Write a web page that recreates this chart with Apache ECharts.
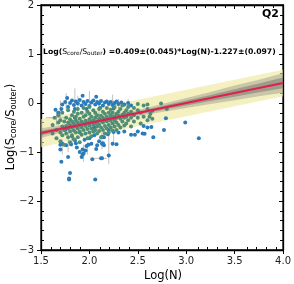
<!DOCTYPE html>
<html><head><meta charset="utf-8">
<script src="https://cdn.jsdelivr.net/npm/echarts@6/dist/echarts.min.js"></script>
<style>html,body{margin:0;padding:0;background:#fff}#c{width:294px;height:284px}</style>
</head><body><div id="c"></div>
<script>
// ---- data ----
var xTicks = [1.5, 2.0, 2.5, 3.0, 3.5, 4.0];
var yTicks = [-3, -2, -1, 0, 1, 2];
var bandX = [1.5, 1.75, 2.0, 2.25, 2.5, 2.75, 3.0, 3.25, 3.5, 3.75, 4.0];
var fitY = [-0.614, -0.511, -0.409, -0.307, -0.204, -0.102, 0.0, 0.102, 0.205, 0.307, 0.409];
var yellowHalf = [0.29, 0.28, 0.27, 0.27, 0.27, 0.27, 0.27, 0.27, 0.27, 0.27, 0.27];
var grayOuter = [0.10, 0.07, 0.05, 0.05, 0.06, 0.08, 0.10, 0.12, 0.15, 0.17, 0.20];
var grayInner = [0.05, 0.035, 0.025, 0.025, 0.03, 0.04, 0.05, 0.06, 0.075, 0.09, 0.11];

var blueX = [1.72,1.75,1.78,1.80,1.82,1.84,1.86,1.88,1.90,1.92,1.94,1.96,1.98,2.00,2.02,2.04,2.06,2.08,2.10,2.12,2.14,2.16,2.18,2.20,2.22,2.24,2.26,2.28,2.30,2.33,2.36,2.40,2.43,1.71,1.68,1.65,1.77,1.93,2.07,1.85,2.11,2.25,1.97,
  1.70,1.70,1.71,1.76,1.78,1.80,1.79,1.81,1.86,1.87,1.90,1.93,1.93,1.96,1.97,1.99,2.02,2.03,2.07,2.08,2.06,2.13,2.13,2.15,2.20,2.24,2.28,2.13,2.14,2.25,2.19,2.36,2.43,2.47,2.50,2.55,2.12,1.79,1.72,1.85,1.94,1.92,2.05,
  2.56,2.60,2.64,2.57,2.77,2.66,2.79,2.99,3.13,
  1.75,1.90,2.05,2.20,1.85,2.30,2.00,2.15,1.95,2.10,1.82];
var blueY = [-0.03,0.02,-0.08,0.00,0.05,-0.04,0.03,-0.01,0.06,-0.05,0.02,-0.02,0.04,-0.06,0.01,0.05,-0.03,0.02,-0.01,0.04,-0.05,0.01,0.03,-0.02,0.02,-0.04,0.00,0.03,-0.02,0.01,-0.03,0.00,-0.05,-0.12,-0.20,-0.14,0.10,0.15,0.13,-0.12,-0.10,-0.11,-0.12,
  -0.85,-0.95,-1.20,-0.86,-1.10,-1.43,-1.56,-0.84,-0.82,-0.91,-1.00,-0.95,-1.05,-0.97,-0.88,-0.85,-0.83,-1.15,-0.94,-0.86,-1.56,-0.83,-1.13,-0.86,-1.07,-0.83,-0.84,-0.69,-0.82,-0.59,-0.64,-0.58,-0.65,-0.65,-0.58,-0.62,-1.13,-1.54,-0.83,-0.76,-1.03,-1.10,-0.66,
  -0.47,-0.50,-0.49,-0.63,-0.55,-0.70,-0.31,-0.40,-0.72,
  -0.55,-0.60,-0.50,-0.55,-0.30,-0.60,-0.72,-0.70,-0.75,-0.78,-0.68];

var greenX = [1.62,1.62,1.64,1.66,1.66,1.68,1.68,1.70,1.70,1.70,1.72,1.72,1.72,1.74,1.74,1.74,1.76,1.76,1.76,
  1.78,1.78,1.78,1.78,1.80,1.80,1.80,1.80,1.82,1.82,1.82,1.82,1.84,1.84,1.84,1.84,1.86,1.86,1.86,1.86,
  1.88,1.88,1.88,1.88,1.88,1.90,1.90,1.90,1.90,1.92,1.92,1.92,1.92,1.94,1.94,1.94,1.94,1.96,1.96,1.96,1.96,
  1.98,1.98,1.98,1.98,2.00,2.00,2.00,2.00,2.00,2.02,2.02,2.02,2.02,2.04,2.04,2.04,2.04,2.06,2.06,2.06,2.06,
  2.08,2.08,2.08,2.08,2.10,2.10,2.10,2.10,2.12,2.12,2.12,2.12,2.14,2.14,2.14,2.14,2.16,2.16,2.16,2.16,
  2.18,2.18,2.18,2.18,2.20,2.20,2.20,2.20,2.22,2.22,2.22,2.22,2.24,2.24,2.24,2.24,2.26,2.26,2.26,2.26,
  2.28,2.28,2.28,2.28,2.30,2.30,2.30,2.32,2.32,2.32,2.34,2.34,2.34,2.36,2.36,2.36,2.38,2.38,2.38,2.40,2.40,2.40,
  2.43,2.43,2.43,2.46,2.46,2.46,2.50,2.50,2.50,2.53,2.53,2.56,2.56,2.60,2.60,2.60,2.63,2.65,2.62,2.65,2.74,2.80];
var greenY = [-0.45,-0.62,-0.30,-0.55,-0.72,-0.40,-0.25,-0.60,-0.35,-0.78,-0.48,-0.20,-0.66,-0.55,-0.38,-0.85,-0.30,-0.62,-0.47,
  -0.52,-0.15,-0.70,-0.40,-0.58,-0.33,-0.45,-0.80,-0.25,-0.50,-0.66,-0.38,-0.42,-0.56,-0.18,-0.74,-0.35,-0.48,-0.60,-0.28,
  -0.52,-0.22,-0.40,-0.70,-0.12,-0.45,-0.32,-0.58,-0.80,-0.38,-0.50,-0.20,-0.65,-0.43,-0.28,-0.55,-0.10,-0.36,-0.62,-0.47,-0.25,
  -0.40,-0.18,-0.53,-0.72,-0.33,-0.46,-0.60,-0.22,-0.08,-0.39,-0.28,-0.52,-0.68,-0.35,-0.15,-0.45,-0.58,-0.30,-0.42,-0.55,-0.20,
  -0.38,-0.25,-0.62,-0.48,-0.32,-0.44,-0.12,-0.57,-0.36,-0.26,-0.50,-0.70,-0.30,-0.40,-0.18,-0.55,-0.34,-0.22,-0.47,-0.62,
  -0.28,-0.38,-0.10,-0.52,-0.32,-0.20,-0.45,-0.60,-0.25,-0.36,-0.50,-0.14,-0.30,-0.42,-0.20,-0.56,-0.27,-0.35,-0.48,-0.08,
  -0.22,-0.40,-0.30,-0.55,-0.26,-0.18,-0.45,-0.32,-0.12,-0.50,-0.24,-0.38,-0.05,-0.20,-0.30,-0.46,-0.28,-0.15,-0.42,-0.22,-0.35,-0.08,
  -0.18,-0.30,-0.48,-0.25,-0.10,-0.38,-0.15,-0.30,-0.02,-0.20,-0.42,-0.05,-0.28,-0.12,-0.35,-0.03,-0.22,-0.16,-0.28,-0.32,-0.01,-0.12];

var errX  = [1.85, 2.00, 2.24, 1.72, 1.78, 1.94, 2.20, 2.25, 1.70, 2.13, 1.88, 2.05, 1.66, 1.76, 2.30, 1.82, 1.98, 2.10, 2.40];
var errLo = [0.02, -0.05, -0.05, -1.05, -1.00, -1.20, -1.25, -0.85, -0.30, -0.95, -0.20, -0.60, -0.45, -0.15, -0.30, -0.90, -1.05, -0.30, -0.25];
var errHi = [0.30, 0.25, 0.17, -0.75, -0.60, -0.85, -0.60, -0.55, 0.05, -0.60, 0.15, -0.20, -0.15, 0.20, 0.08, -0.50, -0.80, 0.05, 0.08];
var hErrY  = [-1.13, -0.30];
var hErrLo = [2.05, 1.55];
var hErrHi = [2.18, 1.75];

// ---- build ----
function zip(a, b) { return a.map(function (v, i) { return [v, b[i]]; }); }
function bandSeries(half, color, z) {
  return {
    type: 'custom', z: z, silent: true, data: [[0, 0]],
    renderItem: function (p, api) {
      var up = [], lo = [];
      for (var i = 0; i < bandX.length; i++) {
        up.push(api.coord([bandX[i], fitY[i] + half[i]]));
        lo.unshift(api.coord([bandX[i], fitY[i] - half[i]]));
      }
      return { type: 'polygon', shape: { points: up.concat(lo) }, style: { fill: color }, silent: true };
    }
  };
}
var font = 'DejaVu Sans';
var minus = function (v) { return String(v).replace('-', '\u2212'); };
var axLine = { show: true, onZero: false, lineStyle: { color: '#000', width: 1.3 } };
var noLine = { show: false, onZero: false };
var gridRect = { left: 41, right: 8, top: 5, bottom: 34 };
var minor = { show: true, splitNumber: 5, length: 3, lineStyle: { color: '#000' } };
var xBase = { type: 'value', min: 1.5, max: 4.0, interval: 0.5, splitLine: { show: false } };
var yBase = { type: 'value', min: -3, max: 2, interval: 1, splitLine: { show: false } };

var chart = echarts.init(document.getElementById('c'), null, { renderer: 'canvas' });
chart.setOption({
  animation: false,
  grid: [Object.assign({ show: true, borderColor: '#000', borderWidth: 1.3, backgroundColor: 'transparent' }, gridRect),
         Object.assign({}, gridRect)],
  xAxis: [
    Object.assign({}, xBase, { gridIndex: 0, position: 'bottom', axisLine: axLine,
      axisTick: { show: true, inside: false, length: 4, lineStyle: { color: '#000' } },
      axisLabel: { fontFamily: font, fontSize: 10, color: '#222', margin: 6, formatter: function (v) { return v.toFixed(1); } } }),
    Object.assign({}, xBase, { gridIndex: 0, position: 'top', axisLine: axLine,
      axisTick: { show: true, inside: true, length: 4, lineStyle: { color: '#000' } }, axisLabel: { show: false }, minorTick: minor }),
    Object.assign({}, xBase, { gridIndex: 1, position: 'bottom', axisLine: noLine,
      axisTick: { show: false, inside: true }, axisLabel: { show: false }, minorTick: minor })
  ],
  yAxis: [
    Object.assign({}, yBase, { gridIndex: 0, position: 'left', axisLine: axLine,
      axisTick: { show: true, inside: false, length: 4, lineStyle: { color: '#000' } },
      axisLabel: { fontFamily: font, fontSize: 10, color: '#222', margin: 7, formatter: minus } }),
    Object.assign({}, yBase, { gridIndex: 0, position: 'right', axisLine: axLine,
      axisTick: { show: true, inside: true, length: 4, lineStyle: { color: '#000' } }, axisLabel: { show: false }, minorTick: minor }),
    Object.assign({}, yBase, { gridIndex: 1, position: 'left', axisLine: noLine,
      axisTick: { show: false, inside: true }, axisLabel: { show: false }, minorTick: minor })
  ],
  series: [
    bandSeries(yellowHalf, 'rgba(236,230,150,0.6)', 1),
    {
      type: 'custom', z: 2, silent: true, data: errX.map(function (x, i) { return [x, errLo[i], errHi[i]]; }),
      renderItem: function (p, api) {
        var a = api.coord([api.value(0), api.value(1)]), b = api.coord([api.value(0), api.value(2)]);
        return { type: 'line', shape: { x1: a[0], y1: a[1], x2: b[0], y2: b[1] }, style: { stroke: 'rgba(150,150,150,0.6)', lineWidth: 1 } };
      }
    },
    {
      type: 'custom', z: 2, silent: true, data: hErrY.map(function (y, i) { return [y, hErrLo[i], hErrHi[i]]; }),
      renderItem: function (p, api) {
        var a = api.coord([api.value(1), api.value(0)]), b = api.coord([api.value(2), api.value(0)]);
        return { type: 'line', shape: { x1: a[0], y1: a[1], x2: b[0], y2: b[1] }, style: { stroke: 'rgba(150,150,150,0.6)', lineWidth: 1 } };
      }
    },
    { type: 'scatter', z: 3, data: zip(blueX, blueY), symbolSize: 4, itemStyle: { color: '#2a7bb9', opacity: 1 }, silent: true },
    { type: 'scatter', z: 4, data: zip(greenX, greenY), symbolSize: 4, itemStyle: { color: '#4f8f78', opacity: 1 }, silent: true },
    bandSeries(grayOuter, 'rgba(120,120,120,0.35)', 5),
    bandSeries(grayInner, 'rgba(105,105,105,0.45)', 6),
    { type: 'line', z: 7, data: zip(bandX, fitY), showSymbol: false, symbol: 'none',
      lineStyle: { color: '#e0204a', width: 2 }, silent: true }
  ],
  graphic: [
    { type: 'text', left: 262, top: 9, style: { text: 'Q2', font: 'bold 11px "DejaVu Sans"', fill: '#000' } },
    { type: 'text', x: 43, y: 52, style: {
        text: '{b|Log(}{n|S}{s|core}{n|/S}{s|outer}{b|) =0.409\u00b1(0.045)*Log(N)-1.227\u00b1(0.097)}',
        verticalAlign: 'middle',
        rich: {
          b: { fontFamily: font, fontWeight: 'bold', fontSize: 7.7, color: '#000' },
          n: { fontFamily: font, fontSize: 7.7, color: '#000' },
          s: { fontFamily: font, fontSize: 5.8, color: '#000', padding: [3, 0, 0, 0] }
        } } },
    { type: 'text', x: 11, y: 127, rotation: Math.PI / 2, style: {
        text: '{n|Log(S}{s|core}{n|/S}{s|outer}{n|)}',
        align: 'center', verticalAlign: 'middle',
        rich: {
          n: { fontFamily: font, fontSize: 11.5, color: '#000' },
          s: { fontFamily: font, fontSize: 8, color: '#000', padding: [5, 0, 0, 0] }
        } } },
    { type: 'text', x: 163, y: 276, style: { text: 'Log(N)', align: 'center', verticalAlign: 'middle', font: '11.5px "DejaVu Sans"', fill: '#000' } }
  ]
});
</script>
</body></html>
